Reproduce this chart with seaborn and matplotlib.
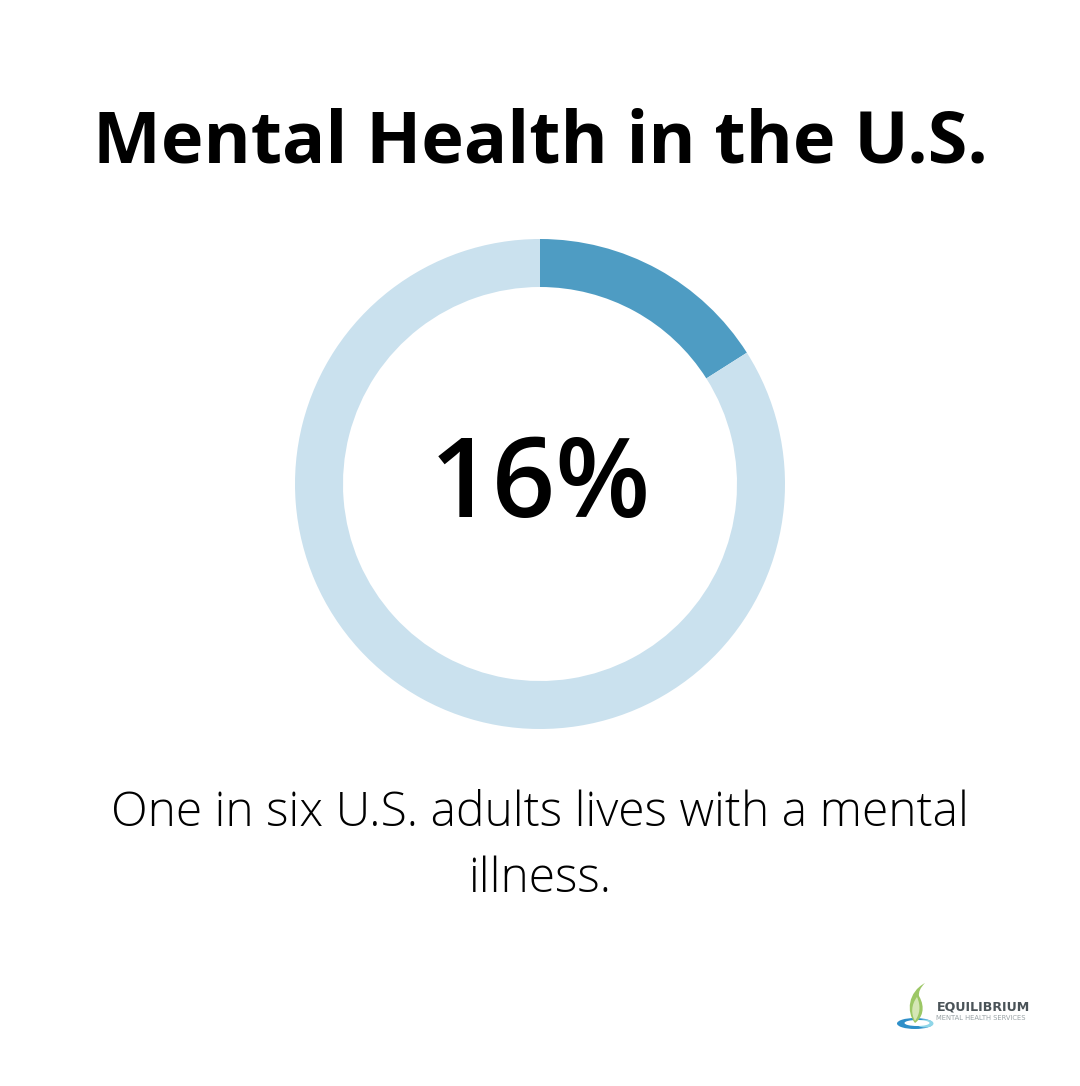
import matplotlib
matplotlib.use("Agg")
import matplotlib.pyplot as plt
from matplotlib.patches import Ellipse, PathPatch
from matplotlib.path import Path
import seaborn as sns

sns.set_theme(style="white")
plt.rcParams['font.family'] = ['Open Sans', 'DejaVu Sans']

title = "Mental Health in the U.S."
big_label = "16%"
caption = ["One in six U.S. adults lives with a mental", "illness."]
logo_name = "EQUILIBRIUM"
logo_sub = "MENTAL HEALTH SERVICES"
values = [16, 84]
colors = ["#4E9CC3", "#CAE1EE"]

W, H = 1080, 1086
fig = plt.figure(figsize=(W/100, H/100), dpi=100, facecolor="white")
bg = fig.add_axes([0, 0, 1, 1])
bg.set_xlim(0, W); bg.set_ylim(H, 0); bg.axis("off")

# donut: centre (540,484), outer radius 245, inner 197
R = 245
ax = fig.add_axes([(540-R)/W, 1-(484+R)/H, 2*R/W, 2*R/H])
ax.pie(values, colors=colors, startangle=90, counterclock=False, radius=1,
       wedgeprops=dict(width=48/245, linewidth=0))
ax.set_xlim(-1, 1); ax.set_ylim(-1, 1); ax.set_aspect("equal")

bg.text(540, 143.5, title, ha="center", va="center", fontsize=51.8, fontweight="bold", color="black")
bg.text(540, 488, big_label, ha="center", va="center", fontsize=79.6, fontweight="semibold", color="black")
bg.text(540, 814, caption[0], ha="center", va="center", fontsize=34.55, fontweight="light", color="black")
bg.text(540, 880, caption[1], ha="center", va="center", fontsize=34.55, fontweight="light", color="black")

# logo
bg.add_patch(Ellipse((915, 1023.5), 36, 11, fc="#2E8FC9", ec="none"))
bg.add_patch(Ellipse((925, 1023.5), 17, 8, fc="#8FD6E8", ec="none"))
bg.add_patch(Ellipse((917, 1023), 25, 6, fc="white", ec="none"))
leaf = Path([(925, 983), (908, 992), (906, 1012), (915, 1023),
             (922, 1018), (926, 1008), (919, 996), (918, 990), (925, 983)],
            [Path.MOVETO, Path.CURVE4, Path.CURVE4, Path.CURVE4,
             Path.CURVE4, Path.CURVE4, Path.CURVE4, Path.CURVE3, Path.CURVE3])
bg.add_patch(PathPatch(leaf, fc="#9CC765", ec="none"))
inner = Path([(917, 997), (911, 1005), (911, 1014), (915, 1021),
              (920, 1014), (921, 1006), (917, 997)],
             [Path.MOVETO, Path.CURVE4, Path.CURVE4, Path.CURVE4,
              Path.CURVE4, Path.CURVE4, Path.CURVE4])
bg.add_patch(PathPatch(inner, fc="#D5E6B5", ec="none"))
bg.text(936.5, 1007.5, logo_name, ha="left", va="center", fontsize=9.1, fontweight="bold",
        family="DejaVu Sans", color="#4A5358")
bg.text(936.5, 1017.5, logo_sub, ha="left", va="center", fontsize=4.9, family="DejaVu Sans", color="#9AA3A6")

fig.savefig("out.png", dpi=100, facecolor="white")
